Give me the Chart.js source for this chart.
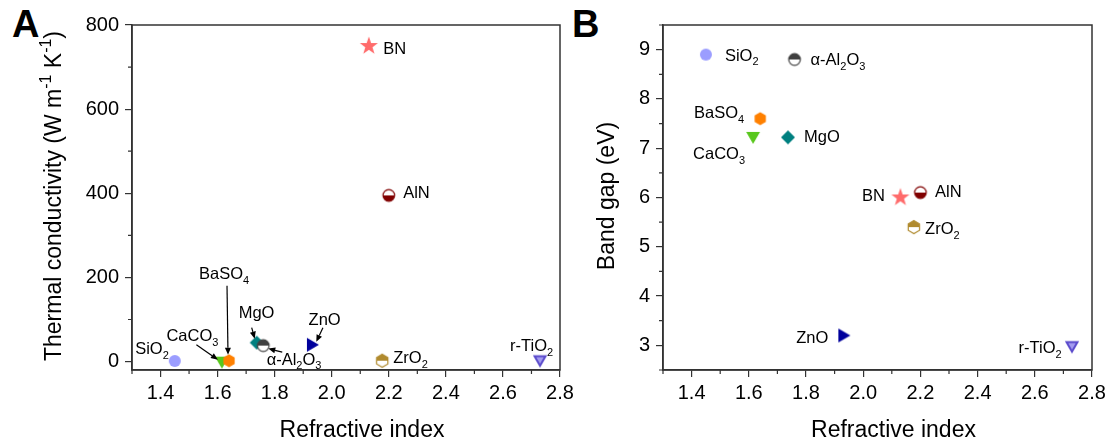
<!DOCTYPE html>
<html>
<head>
<meta charset="utf-8">
<script src="https://cdn.jsdelivr.net/npm/chart.js@4.4.1/dist/chart.umd.min.js"></script>
<style>
  body { margin: 0; background: #fff; width: 1113px; height: 443px; overflow: hidden; position: relative; font-family: "Liberation Sans", Arial, sans-serif; }
  canvas { position: absolute; top: 0; }
  .tag { position: absolute; top: 5px; font-weight: bold; font-size: 38px; line-height: 1; }
</style>
</head>
<body>
<div class="tag" style="left:12px">A</div>
<div class="tag" style="left:572px">B</div>
<canvas id="chartA" width="580" height="443" style="left:0"></canvas>
<canvas id="chartB" width="548" height="443" style="left:565px"></canvas>
<script>
const FONT = '"Liberation Sans", Arial, Helvetica, sans-serif';
Chart.defaults.font.family = FONT;
Chart.defaults.color = "#000";

// data
const materials = ["SiO2", "CaCO3", "BaSO4", "MgO", "α-Al2O3", "ZnO", "ZrO2", "r-TiO2", "BN", "AlN"];
const refractiveIndex = [1.45, 1.615, 1.64, 1.737, 1.76, 1.927, 2.177, 2.73, 2.13, 2.2];
const thermalConductivity = [1.4, 2.2, 2, 45, 38, 40, 2, 5, 750, 395];
const bandGap = [8.9, 7.25, 7.6, 7.22, 8.8, 3.2, 5.4, 3.0, 6.0, 6.1];
const xTicks = [1.4, 1.6, 1.8, 2.0, 2.2, 2.4, 2.6, 2.8];
const yTicksA = [0, 200, 400, 600, 800];
const yTicksB = [3, 4, 5, 6, 7, 8, 9];

// marker looks
const markerKinds = ["circle", "triDown", "hexagon", "diamond", "halfCircleTop", "triRight", "halfHexTop", "triDownOpen", "star", "halfCircleBottom"];
const markerColors = ["#9b9dff", "#58c71c", "#ff8000", "#008080", "#404040", "#00009c", "#b08a2e", "#5b4bcc", "#ff6b6b", "#800000"];

// label offsets from the marker: dx, dy (to text middle), alignment
const labelPosA = [[-6, -12.5, "right"], [-55.5, -26, "left"], [-30, -88, "left"], [-18, -31, "left"], [3.4, 13, "left"],
  [-2.3, -26, "left"], [11, -3.3, "left"], [-30, -14.5, "left"], [14.5, 1.8, "left"], [14.4, -3, "left"]];
const labelPosB = [[19, 0, "left"], [-60, 17, "left"], [-16, -6.6, "right"], [16, -1.5, "left"], [16, 0, "left"],
  [-14, 1.2, "right"], [11.3, 1.2, "left"], [-10.3, 1.6, "right"], [-15.4, -2.5, "right"], [14.6, -1.6, "left"]];
// arrows in panel A: point index, start offset, tip offset
const arrowsA = [[1, [-25.5, -16], [-4, -1]], [2, [-2, -75], [-1, -6]], [3, [-5, -15], [-2, -4]], [4, [19, 6.5], [5, 3]], [5, [12, -17], [5.4, -3]]];

function makeMarker(kind, color) {
  const s = 24, c = document.createElement("canvas");
  c.width = s; c.height = s;
  const g = c.getContext("2d");
  g.translate(s / 2, s / 2);
  g.fillStyle = color; g.strokeStyle = color; g.lineWidth = 1.2;
  const ngon = (n, r, a0) => {
    g.beginPath();
    for (let i = 0; i < n; i++) {
      const a = a0 + i * 2 * Math.PI / n;
      i ? g.lineTo(r * Math.cos(a), r * Math.sin(a)) : g.moveTo(r * Math.cos(a), r * Math.sin(a));
    }
    g.closePath();
  };
  const circ = () => { g.beginPath(); g.arc(0, 0, 5.8, 0, 2 * Math.PI); };
  const hex = () => ngon(6, 6.5, -Math.PI / 2);
  const half = (path, top) => {
    path(); g.fillStyle = "#fff"; g.fill();
    g.save(); path(); g.clip(); g.fillStyle = color;
    g.fillRect(-s / 2, top ? -s / 2 : 0, s, s / 2); g.restore();
    path(); g.stroke();
  };
  switch (kind) {
    case "circle": g.beginPath(); g.arc(0, 0, 6, 0, 2 * Math.PI); g.fill(); break;
    case "triDown": ngon(3, 8, Math.PI / 2); g.fill(); break;
    case "triRight": ngon(3, 8, 0); g.fill(); break;
    case "diamond": ngon(4, 7, 0); g.fill(); break;
    case "hexagon": hex(); g.fill(); break;
    case "halfCircleTop": half(circ, true); break;
    case "halfCircleBottom": half(circ, false); break;
    case "halfHexTop": half(hex, true); break;
    case "triDownOpen":
      ngon(3, 6.3, Math.PI / 2); g.fillStyle = "#a39bf0"; g.fill();
      g.lineWidth = 2; g.stroke(); break;
    case "star":
      g.beginPath();
      for (let i = 0; i < 10; i++) {
        const r = i % 2 ? 3.8 : 9.5, a = -Math.PI / 2 + i * Math.PI / 5;
        i ? g.lineTo(r * Math.cos(a), r * Math.sin(a)) : g.moveTo(r * Math.cos(a), r * Math.sin(a));
      }
      g.closePath(); g.fill(); break;
  }
  return c;
}
const markers = markerKinds.map((k, i) => makeMarker(k, markerColors[i]));

function drawRich(ctx, parts, x, base, size, align) {
  const small = Math.round(size * 0.68);
  const fontOf = p => (p[1] ? small : size) + "px " + FONT;
  let w = 0;
  parts.forEach(p => { ctx.font = fontOf(p); w += ctx.measureText(p[0]).width; });
  let cx = align === "right" ? x - w : align === "center" ? x - w / 2 : x;
  ctx.textAlign = "left"; ctx.textBaseline = "alphabetic"; ctx.fillStyle = "#000";
  parts.forEach(p => {
    ctx.font = fontOf(p);
    const off = p[1] === "sub" ? size * 0.3 : p[1] === "sup" ? -size * 0.42 : 0;
    ctx.fillText(p[0], cx, base + off);
    cx += ctx.measureText(p[0]).width;
  });
}
const formula = name => name.match(/\d+|\D+/g).map(s => /\d/.test(s) ? [s, "sub"] : [s, 0]);

function arrow(ctx, x1, y1, x2, y2) {
  const a = Math.atan2(y2 - y1, x2 - x1), L = 7, W = 3;
  ctx.strokeStyle = "#000"; ctx.fillStyle = "#000"; ctx.lineWidth = 1.2;
  ctx.beginPath(); ctx.moveTo(x1, y1); ctx.lineTo(x2 - L * Math.cos(a), y2 - L * Math.sin(a)); ctx.stroke();
  ctx.beginPath();
  ctx.moveTo(x2, y2);
  ctx.lineTo(x2 - L * Math.cos(a) + W * Math.sin(a), y2 - L * Math.sin(a) - W * Math.cos(a));
  ctx.lineTo(x2 - L * Math.cos(a) - W * Math.sin(a), y2 - L * Math.sin(a) + W * Math.cos(a));
  ctx.closePath(); ctx.fill();
}

function overlay(o) {
  return {
    id: "overlay",
    afterDraw(chart) {
      const ctx = chart.ctx, a = chart.chartArea, xs = chart.scales.x, ys = chart.scales.y;
      const pts = chart.getDatasetMeta(0).data;
      ctx.save();
      ctx.strokeStyle = "#333"; ctx.lineWidth = 1.5;
      ctx.strokeRect(a.left, a.top, a.right - a.left, a.bottom - a.top);
      // minor ticks
      ctx.lineWidth = 1.2; ctx.beginPath();
      for (let k = 0; k <= Math.round((xs.max - xs.min) / 0.1); k++) {
        const v = xs.min + k * 0.1;
        if (xTicks.some(t => Math.abs(t - v) < 1e-6)) continue;
        const px = xs.getPixelForValue(v);
        ctx.moveTo(px, a.bottom); ctx.lineTo(px, a.bottom + 4);
      }
      const y0 = Math.ceil(ys.min / o.yMinor) * o.yMinor;
      for (let v = y0; v <= ys.max + 1e-9; v += o.yMinor) {
        if (o.yTicks.some(t => Math.abs(t - v) < 1e-6)) continue;
        const py = ys.getPixelForValue(v);
        ctx.moveTo(a.left, py); ctx.lineTo(a.left - 4, py);
      }
      ctx.stroke();
      // point labels and arrows
      const fs = 16.5;
      materials.forEach((m, i) => {
        const [dx, dy, al] = o.labels[i];
        drawRich(ctx, formula(m), pts[i].x + dx, pts[i].y + dy + fs * 0.36, fs, al);
      });
      (o.arrows || []).forEach(([i, s, e]) => arrow(ctx, pts[i].x + s[0], pts[i].y + s[1], pts[i].x + e[0], pts[i].y + e[1]));
      // axis titles
      drawRich(ctx, [["Refractive index", 0]], (a.left + a.right) / 2 + 16, 436.5, 23, "center");
      ctx.translate(a.left - o.titleGap, 196);
      ctx.rotate(-Math.PI / 2);
      drawRich(ctx, o.yTitle, 0, 0, 23, "center");
      ctx.restore();
    }
  };
}

function makeChart(id, o) {
  const axisGrid = { drawOnChartArea: false, drawTicks: true, tickLength: 7, color: "#333", lineWidth: 1.2 };
  const axisBorder = { display: true, color: "#333", width: 1.5 };
  return new Chart(document.getElementById(id), {
    type: "scatter",
    data: {
      datasets: [{
        data: materials.map((m, i) => ({ x: refractiveIndex[i], y: o.values[i] })),
        pointStyle: markers,
        pointRadius: 6,
        pointHoverRadius: 6,
      }],
    },
    options: {
      responsive: false,
      animation: false,
      layout: { padding: { top: 25, right: o.padRight, left: 0, bottom: 0 } },
      plugins: { legend: { display: false }, tooltip: { enabled: false } },
      scales: {
        x: {
          type: "linear", min: 1.3, max: 2.8,
          afterBuildTicks: s => { s.ticks = xTicks.map(v => ({ value: v })); },
          afterFit: s => { s.height = 73; s.paddingLeft = 0; s.paddingRight = 0; },
          ticks: { font: { size: 20, family: FONT }, color: "#000", padding: 4, maxRotation: 0, autoSkip: false, callback: v => v.toFixed(1) },
          grid: axisGrid, border: axisBorder,
        },
        y: {
          type: "linear", min: o.yMin, max: o.yMax,
          afterBuildTicks: s => { s.ticks = o.yTicks.map(v => ({ value: v })); },
          afterFit: s => { s.width = o.yAxisWidth; s.paddingTop = 0; s.paddingBottom = 0; },
          ticks: { font: { size: 20, family: FONT }, color: "#000", padding: 6, autoSkip: false, callback: v => String(v) },
          grid: axisGrid, border: axisBorder,
        },
      },
    },
    plugins: [overlay(o)],
  });
}

makeChart("chartA", {
  values: thermalConductivity, yMin: -20, yMax: 800, yTicks: yTicksA, yMinor: 100,
  yAxisWidth: 132, padRight: 20, labels: labelPosA, arrows: arrowsA, titleGap: 71.5,
  yTitle: [["Thermal conductivity (W m", 0], ["-1", "sup"], [" K", 0], ["-1", "sup"], [")", 0]],
});
makeChart("chartB", {
  values: bandGap, yMin: 2.5, yMax: 9.5, yTicks: yTicksB, yMinor: 0.5,
  yAxisWidth: 98, padRight: 21, labels: labelPosB, titleGap: 49,
  yTitle: [["Band gap (eV)", 0]],
});
</script>
</body>
</html>
